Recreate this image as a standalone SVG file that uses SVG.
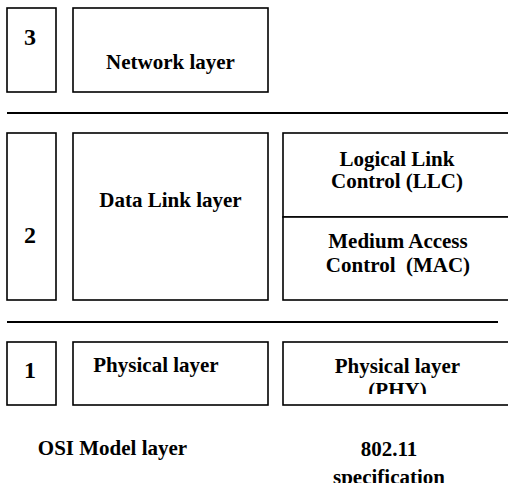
<svg xmlns="http://www.w3.org/2000/svg" width="508" height="483" viewBox="0 0 508 483">
<style>
.b{fill:#fff;stroke:#000;stroke-width:1.6}
.l{stroke:#000;stroke-width:1.8;fill:none}
text{font-family:"Liberation Serif","Times New Roman",serif;font-weight:bold;font-size:21px;fill:#000;text-anchor:middle;white-space:pre}
.n{font-size:24px}
</style>
<defs>
<clipPath id="phyclip"><rect x="283" y="342" width="230" height="52"/></clipPath>
</defs>
<rect width="508" height="483" fill="#fff"/>
<g id="connectors">
<line class="l" x1="7" y1="113" x2="508" y2="113"/>
<line class="l" x1="7" y1="322" x2="498" y2="322"/>
</g>
<g id="layer3">
<rect class="b" x="7" y="8" width="49" height="84"/>
<text class="n" x="30" y="45">3</text>
</g>
<g id="network">
<rect class="b" x="73" y="8" width="195" height="84"/>
<text x="170.5" y="69">Network layer</text>
</g>
<g id="layer2">
<rect class="b" x="7" y="133" width="49" height="167"/>
<text class="n" x="30" y="243">2</text>
</g>
<g id="datalink">
<rect class="b" x="73" y="133" width="195" height="167"/>
<text x="170.5" y="207">Data Link layer</text>
</g>
<g id="llc">
<rect class="b" x="283" y="133" width="230" height="84"/>
<text x="397" y="166">Logical Link</text>
<text x="397" y="188">Control (LLC)</text>
</g>
<g id="mac">
<rect class="b" x="283" y="217" width="230" height="83"/>
<text x="398" y="248">Medium Access</text>
<text x="398" y="272">Control  (MAC)</text>
</g>
<g id="layer1">
<rect class="b" x="7" y="342" width="49" height="63"/>
<text class="n" x="30" y="378">1</text>
</g>
<g id="physical">
<rect class="b" x="73" y="342" width="195" height="63"/>
<text x="156" y="372">Physical layer</text>
</g>
<g id="phy">
<rect class="b" x="283" y="342" width="230" height="63"/>
<text x="397.5" y="373">Physical layer</text>
<text x="397.5" y="397" clip-path="url(#phyclip)">(PHY)</text>
</g>
<g id="labels">
<text x="112.5" y="455">OSI Model layer</text>
<text x="389" y="456">802.11</text>
<text x="389" y="484">specification</text>
</g>
</svg>
